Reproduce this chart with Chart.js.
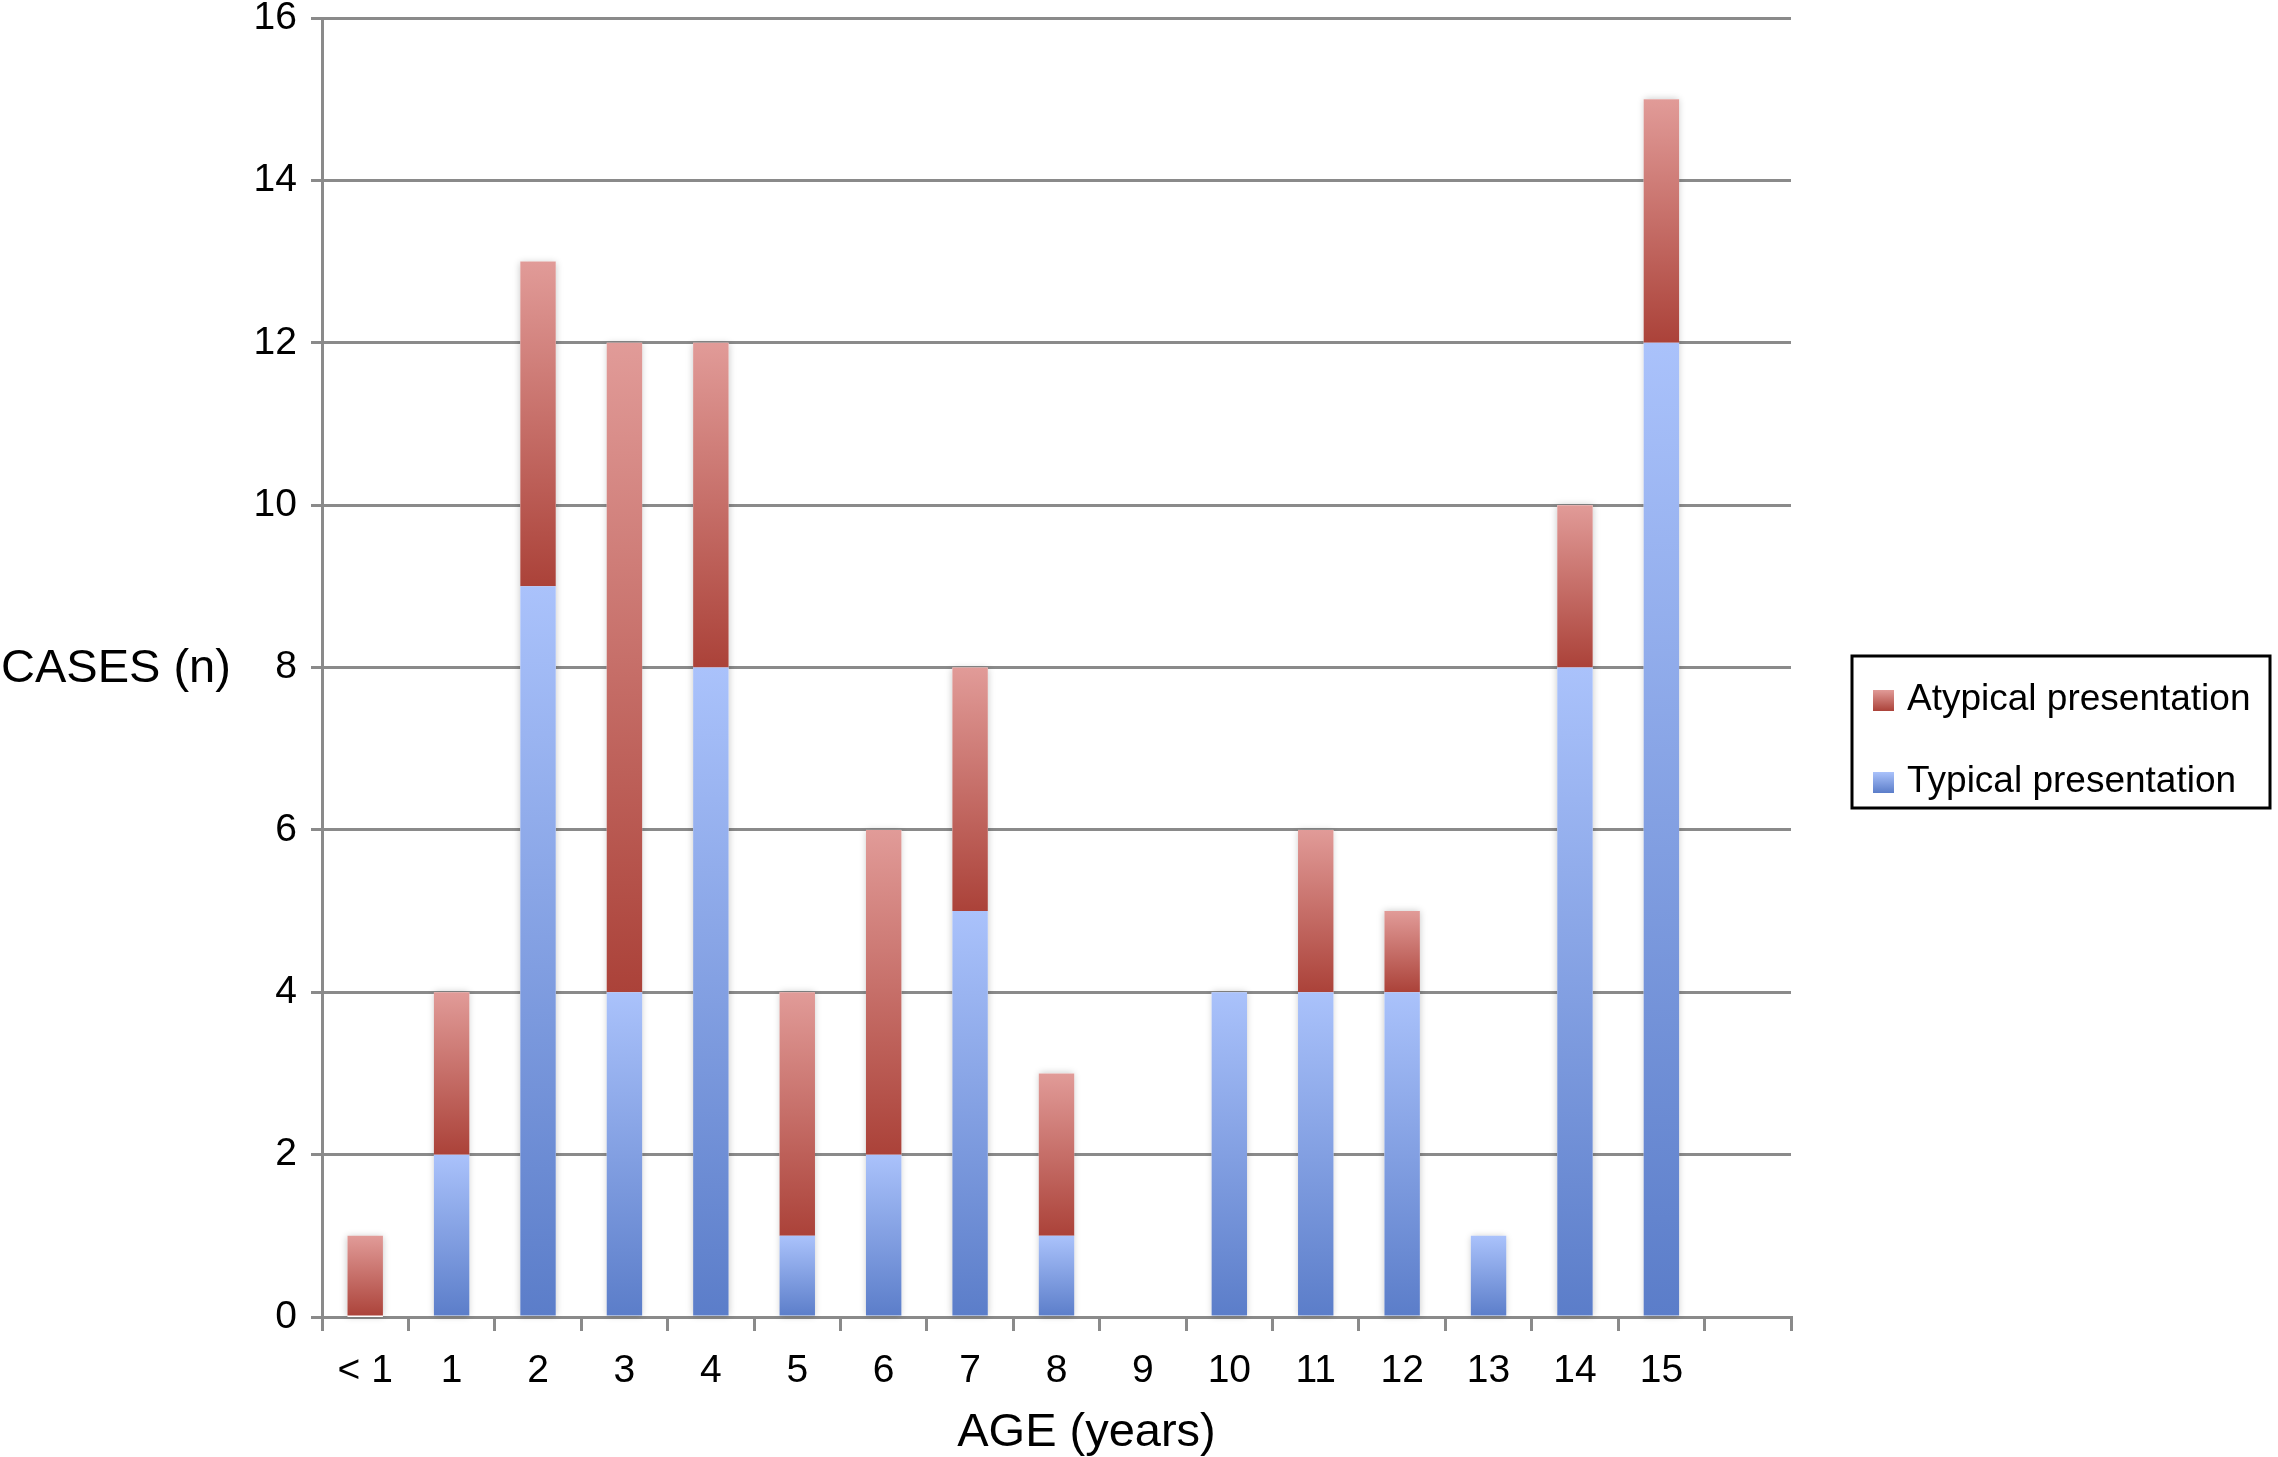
<!DOCTYPE html>
<html>
<head>
<meta charset="utf-8">
<title>Cases by age</title>
<script src="https://cdn.jsdelivr.net/npm/chart.js@4.4.1/dist/chart.umd.min.js"></script>
<style>
  html, body { margin: 0; padding: 0; background: #fff; }
  #chart { display: block; }
</style>
</head>
<body>
<canvas id="chart" width="2278" height="1457"></canvas>
<script>
// ---- Data ----------------------------------------------------------------

const AGES = ["< 1", "1", "2", "3", "4", "5", "6", "7", "8", "9", "10", "11", "12", "13", "14", "15", ""];
const TYPICAL = [0, 2, 9, 4, 8, 1, 2, 5, 1, 0, 4, 4, 4, 1, 8, 12, 0];
const ATYPICAL = [1, 2, 4, 8, 4, 3, 4, 3, 2, 0, 0, 2, 1, 0, 2, 3, 0];
const Y_TICKS = [0, 2, 4, 6, 8, 10, 12, 14, 16];

const FONT = "'Liberation Sans', Arial, Helvetica, sans-serif";
const GRID = "#8a8a8a";
const BLUE = ["#aac2fb", "#5b7dc9"];
const RED = ["#e19b98", "#ab4239"];

// ---- Helpers -------------------------------------------------------------

// each stacked segment gets its own light-to-dark vertical gradient
function segmentFill(colors, below) {
  return (c) => {
    const chart = c.chart;
    if (c.type !== "data" || !chart.chartArea) return colors[1];
    const ds = chart.data.datasets[c.datasetIndex].data;
    const i = c.dataIndex;
    const base = below ? below[i] : 0;
    const yScale = chart.scales.y;
    const top = yScale.getPixelForValue(base + ds[i]);
    const bottom = yScale.getPixelForValue(base);
    if (bottom - top < 1) return colors[1];
    const g = chart.ctx.createLinearGradient(0, top, 0, bottom);
    g.addColorStop(0, colors[0]);
    g.addColorStop(1, colors[1]);
    return g;
  };
}

// soft halo behind every full bar
const barShadow = {
  id: "barShadow",
  beforeDatasetsDraw(chart) {
    const { ctx } = chart;
    const m0 = chart.getDatasetMeta(0).data;
    const m1 = chart.getDatasetMeta(1).data;
    ctx.save();
    ctx.shadowColor = "rgba(0,0,0,0.22)";
    ctx.shadowBlur = 7;
    ctx.fillStyle = "#fff";
    m0.forEach((el, i) => {
      const top = Math.min(el.y, m1[i].y);
      const h = el.base - top;
      if (h < 1) return;
      ctx.fillRect(el.x - el.width / 2, top, el.width, h);
    });
    ctx.restore();
  },
};

// horizontal y title, x title and boxed legend
const annotations = {
  id: "annotations",
  afterDraw(chart) {
    const { ctx, chartArea } = chart;
    ctx.save();
    ctx.fillStyle = "#000";
    ctx.font = `47px ${FONT}`;
    ctx.textBaseline = "middle";
    ctx.textAlign = "left";
    ctx.fillText("CASES (n)", 1, (chartArea.top + chartArea.bottom) / 2 + 2);
    ctx.textAlign = "center";
    ctx.fillText("AGE (years)", (chartArea.left + chartArea.right) / 2 + 30, chartArea.bottom + 116);

    // legend
    const bx = 1852, by = 656, bw = 418, bh = 152;
    ctx.strokeStyle = "#000";
    ctx.lineWidth = 3;
    ctx.strokeRect(bx, by, bw, bh);
    const items = [
      { label: chart.data.datasets[1].label, colors: RED, y: by + 44 },
      { label: chart.data.datasets[0].label, colors: BLUE, y: by + 126 },
    ];
    ctx.font = `37px ${FONT}`;
    ctx.textAlign = "left";
    items.forEach((it) => {
      const g = ctx.createLinearGradient(0, it.y - 10, 0, it.y + 11);
      g.addColorStop(0, it.colors[0]);
      g.addColorStop(1, it.colors[1]);
      ctx.fillStyle = g;
      ctx.fillRect(bx + 21, it.y - 10, 21, 21);
      ctx.fillStyle = "#000";
      ctx.fillText(it.label, bx + 55, it.y);
    });
    ctx.restore();
  },
};

// ---- Chart ---------------------------------------------------------------

new Chart(document.getElementById("chart"), {
  type: "bar",
  data: {
    labels: AGES,
    datasets: [
      {
        label: "Typical presentation",
        data: TYPICAL,
        backgroundColor: segmentFill(BLUE, null),
      },
      {
        label: "Atypical presentation",
        data: ATYPICAL,
        backgroundColor: segmentFill(RED, TYPICAL),
      },
    ],
  },
  options: {
    responsive: false,
    devicePixelRatio: 1,
    animation: false,
    categoryPercentage: 1,
    barPercentage: 0.41,
    layout: { padding: { top: 18, right: 487, left: 0, bottom: 0 } },
    plugins: { legend: { display: false }, tooltip: { enabled: false } },
    scales: {
      x: {
        stacked: true,
        grid: { display: true, drawOnChartArea: false, color: GRID, lineWidth: 3, tickLength: 14, offset: true },
        border: { display: true, color: GRID, width: 3 },
        ticks: { color: "#000", font: { family: FONT, size: 39 }, padding: 17, maxRotation: 0, autoSkip: false },
        afterFit(scale) {
          scale.height = 140;
          scale.paddingLeft = 0;
          scale.paddingRight = 0;
        },
      },
      y: {
        stacked: true,
        min: 0,
        max: 16,
        afterBuildTicks(scale) {
          scale.ticks = Y_TICKS.map((v) => ({ value: v }));
        },
        grid: { color: GRID, lineWidth: 3, tickLength: 11 },
        border: { display: true, color: GRID, width: 3 },
        ticks: { color: "#000", font: { family: FONT, size: 39 }, padding: 14 },
        afterFit(scale) {
          scale.width = 322;
          scale.paddingTop = 0;
          scale.paddingBottom = 0;
        },
      },
    },
  },
  plugins: [barShadow, annotations],
});
</script>
</body>
</html>
